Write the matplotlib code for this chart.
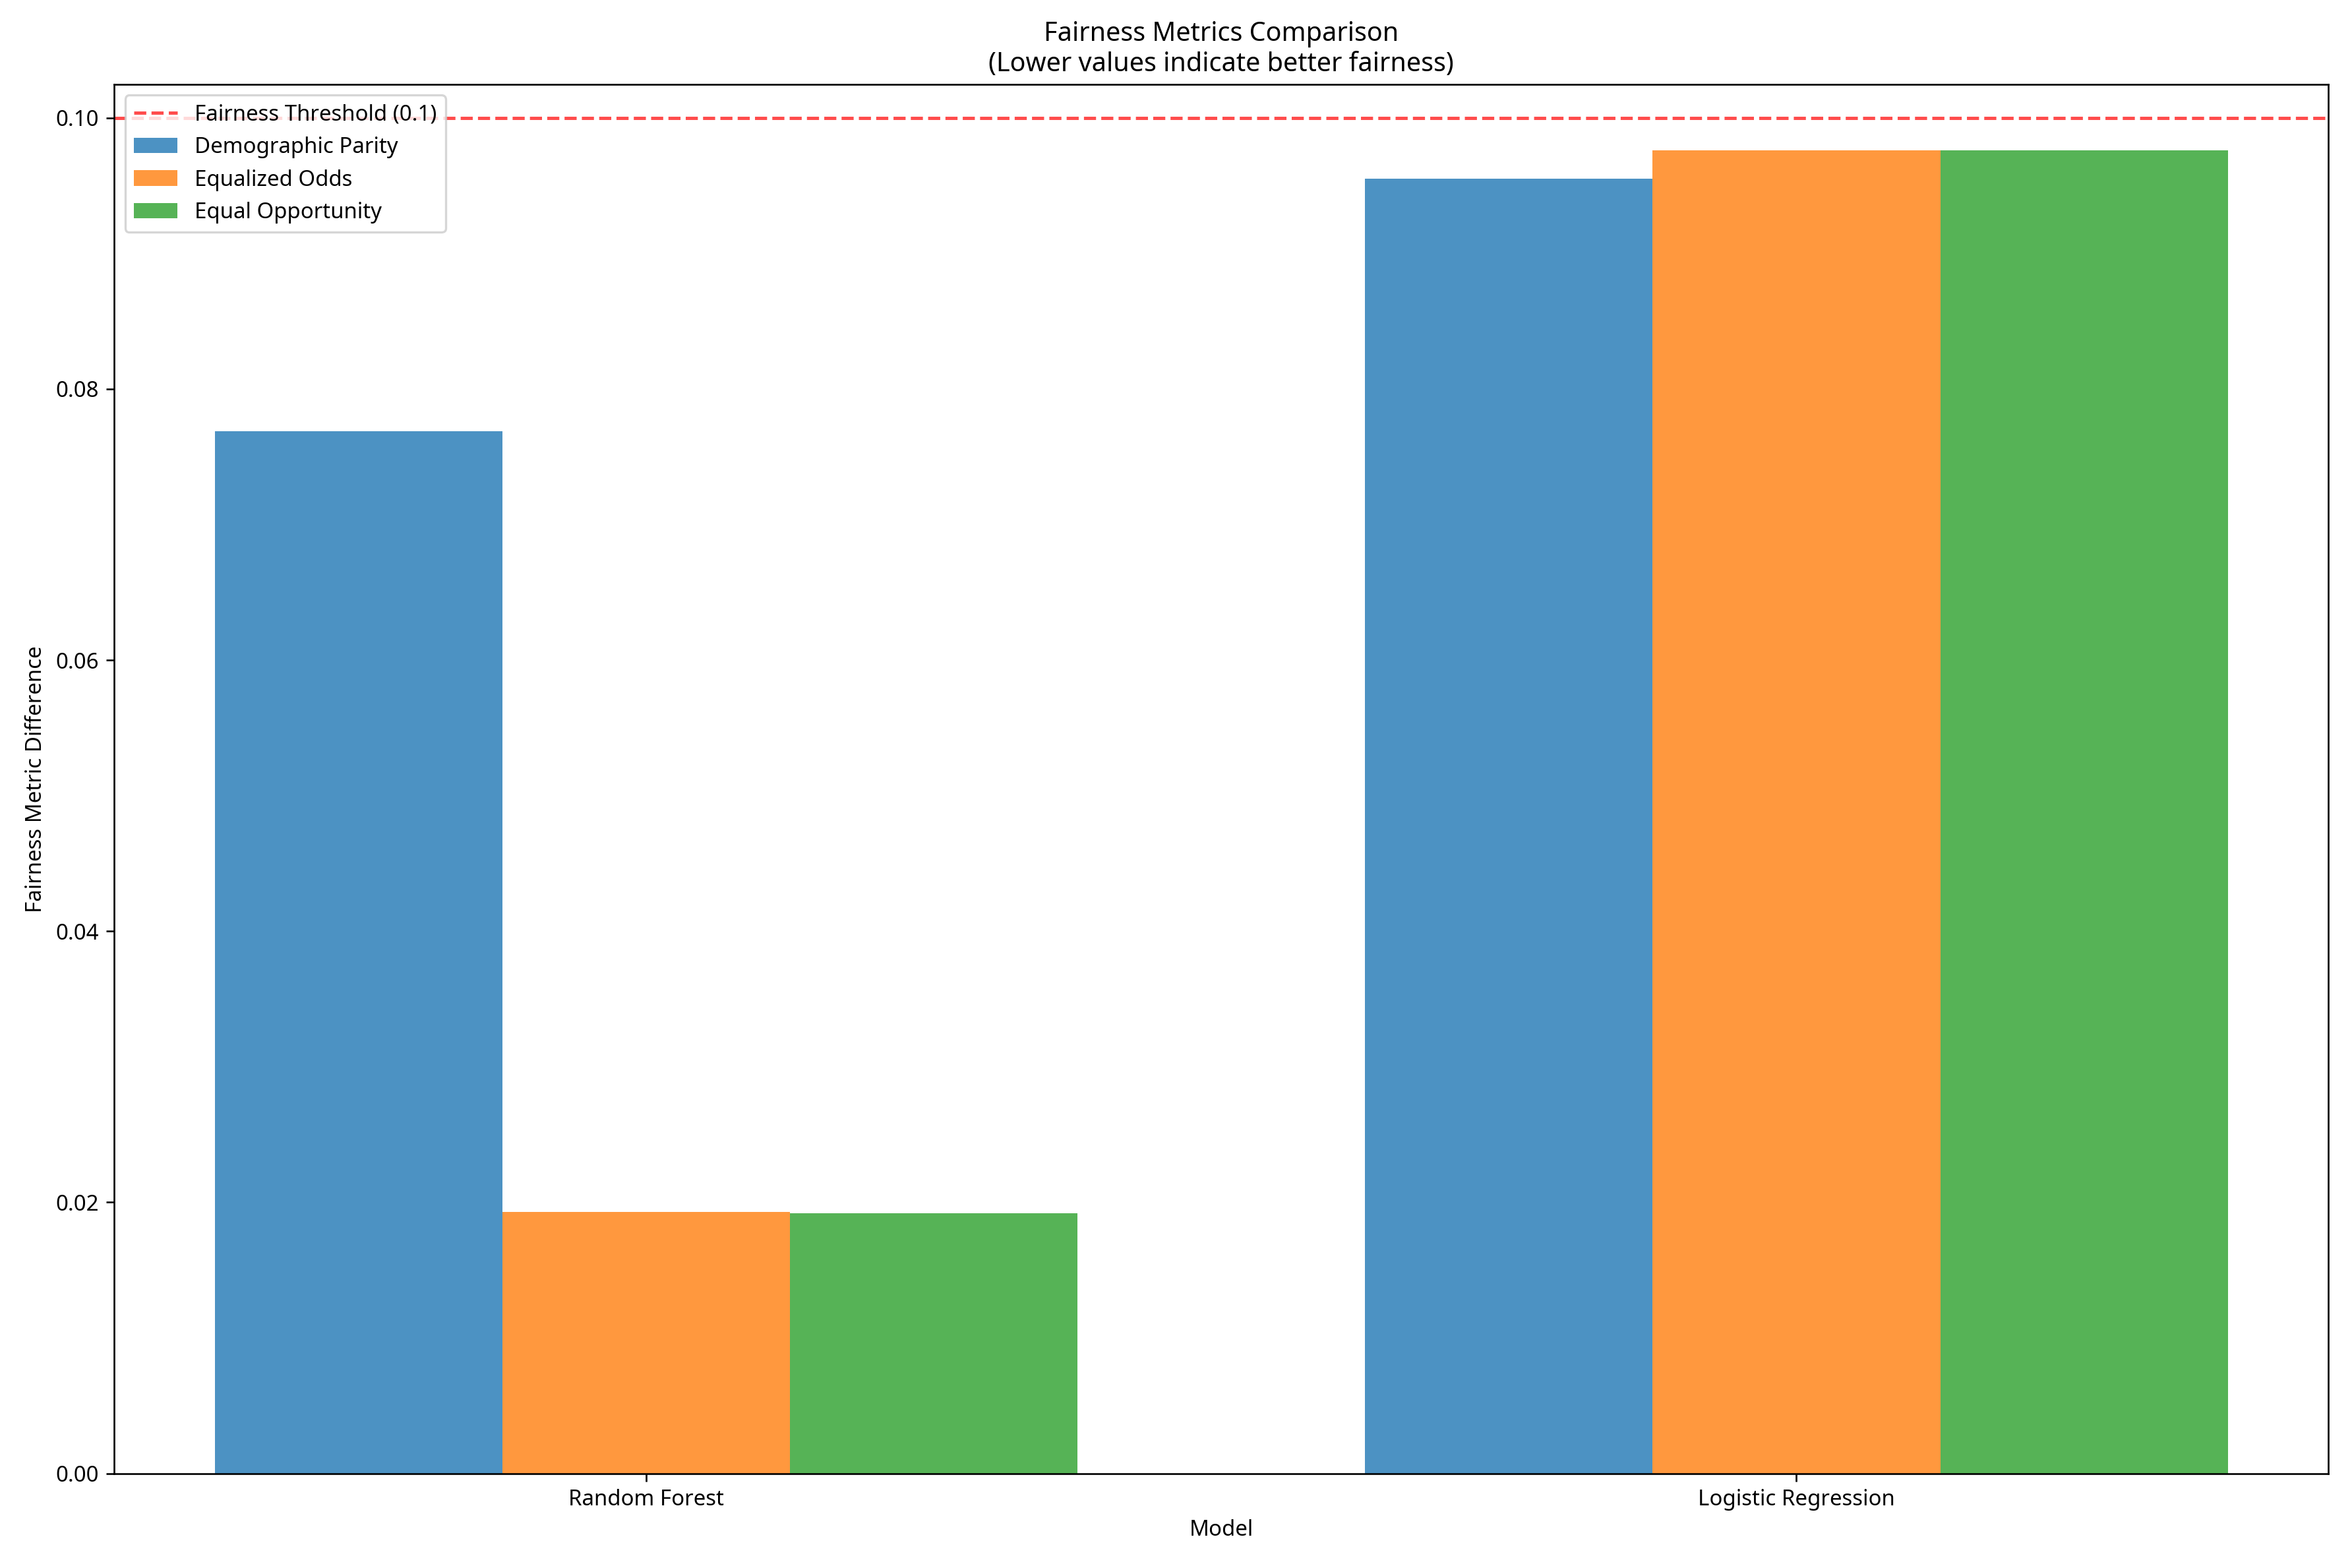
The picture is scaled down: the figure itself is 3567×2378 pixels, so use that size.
import matplotlib.pyplot as plt
import numpy as np

plt.rcParams['font.family'] = ['Noto Sans', 'DejaVu Sans']

models = ['Random Forest', 'Logistic Regression']
demographic_parity = [0.0769, 0.0955]
equalized_odds = [0.0193, 0.0976]
equal_opportunity = [0.0192, 0.0976]
threshold = 0.1

x = np.arange(len(models))
width = 0.25

fig, ax = plt.subplots(figsize=(15, 10))
ax.bar(x - width, demographic_parity, width, label='Demographic Parity', alpha=0.8)
ax.bar(x, equalized_odds, width, label='Equalized Odds', alpha=0.8)
ax.bar(x + width, equal_opportunity, width, label='Equal Opportunity', alpha=0.8)
ax.axhline(threshold, color='r', linestyle='--', alpha=0.7, label='Fairness Threshold (0.1)')

ax.set_xlabel('Model')
ax.set_ylabel('Fairness Metric Difference')
ax.set_title('Fairness Metrics Comparison\n(Lower values indicate better fairness)')
ax.set_xticks(x)
ax.set_xticklabels(models)
ax.legend(loc='upper left')
plt.tight_layout()
plt.savefig('out.png', dpi=237.8)
